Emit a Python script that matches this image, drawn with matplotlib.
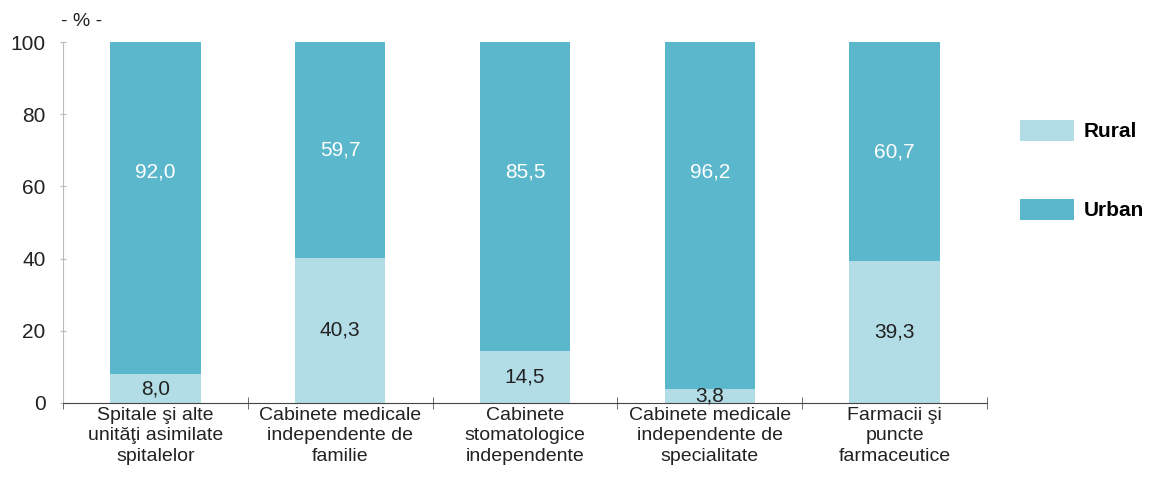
import matplotlib
matplotlib.use("Agg")
import matplotlib.pyplot as plt
import numpy as np
from matplotlib.patches import Patch

plt.rcParams['font.family'] = ['Liberation Sans', 'DejaVu Sans']

# Data
categories = [
    "Spitale şi alte\nunităţi asimilate\nspitalelor",
    "Cabinete medicale\nindependente de\nfamilie",
    "Cabinete\nstomatologice\nindependente",
    "Cabinete medicale\nindependente de\nspecialitate",
    "Farmacii şi\npuncte\nfarmaceutice",
]
rural = [8.0, 40.3, 14.5, 3.8, 39.3]
urban = [92.0, 59.7, 85.5, 96.2, 60.7]
yticks = [0, 20, 40, 60, 80, 100]

c_rural = "#b3dde6"
c_urban = "#5bb7cb"

fig = plt.figure(figsize=(11.54, 4.79), dpi=100)
ax = fig.add_axes([0.0546, 0.1587, 0.8007, 0.7536])

x = np.arange(len(categories))
ax.bar(x, rural, width=0.49, color=c_rural)
ax.bar(x, urban, width=0.49, bottom=rural, color=c_urban)

fmt = lambda v: f"{v:.1f}".replace(".", ",")
for i in range(len(x)):
    ax.text(x[i], rural[i] / 2, fmt(rural[i]), ha="center", va="center",
            fontsize=15, color="#222222")
    ymid = max(rural[i] + urban[i] / 2, 64)
    ax.text(x[i], ymid, fmt(urban[i]), ha="center", va="center",
            fontsize=15, color="white")

ax.set_xlim(-0.5, len(x) - 0.5)
ax.set_ylim(0, 100)
ax.set_yticks(yticks)
ax.set_yticklabels([str(t) for t in yticks], fontsize=15, color="#222222")
ax.tick_params(axis="y", direction="inout", length=5, color="#bbbbbb", pad=10)

ax.set_xticks(x)
ax.set_xticklabels(categories, fontsize=14, color="#222222", linespacing=1.25)
ax.tick_params(axis="x", which="major", length=0, pad=3)
ax.set_xticks(np.arange(len(x) + 1) - 0.5, minor=True)
ax.tick_params(axis="x", which="minor", direction="inout", length=8, color="#555555")

for s in ["top", "right"]:
    ax.spines[s].set_visible(False)
ax.spines["left"].set_color("#bbbbbb")
ax.spines["bottom"].set_color("#444444")

fig.text(0.053, 0.955, "- % -", fontsize=14, color="#222222", ha="left", va="center")

handles = [Patch(facecolor=c_rural, label="Rural"), Patch(facecolor=c_urban, label="Urban")]
fig.legend(handles=handles, loc="upper left", bbox_to_anchor=(0.884, 0.75),
           frameon=False, prop={"weight": "bold", "size": 15}, handlelength=2.6,
           handleheight=1.2, labelspacing=2.75, handletextpad=0.45, borderpad=0,
           borderaxespad=0)

fig.savefig("out.png", dpi=100)
